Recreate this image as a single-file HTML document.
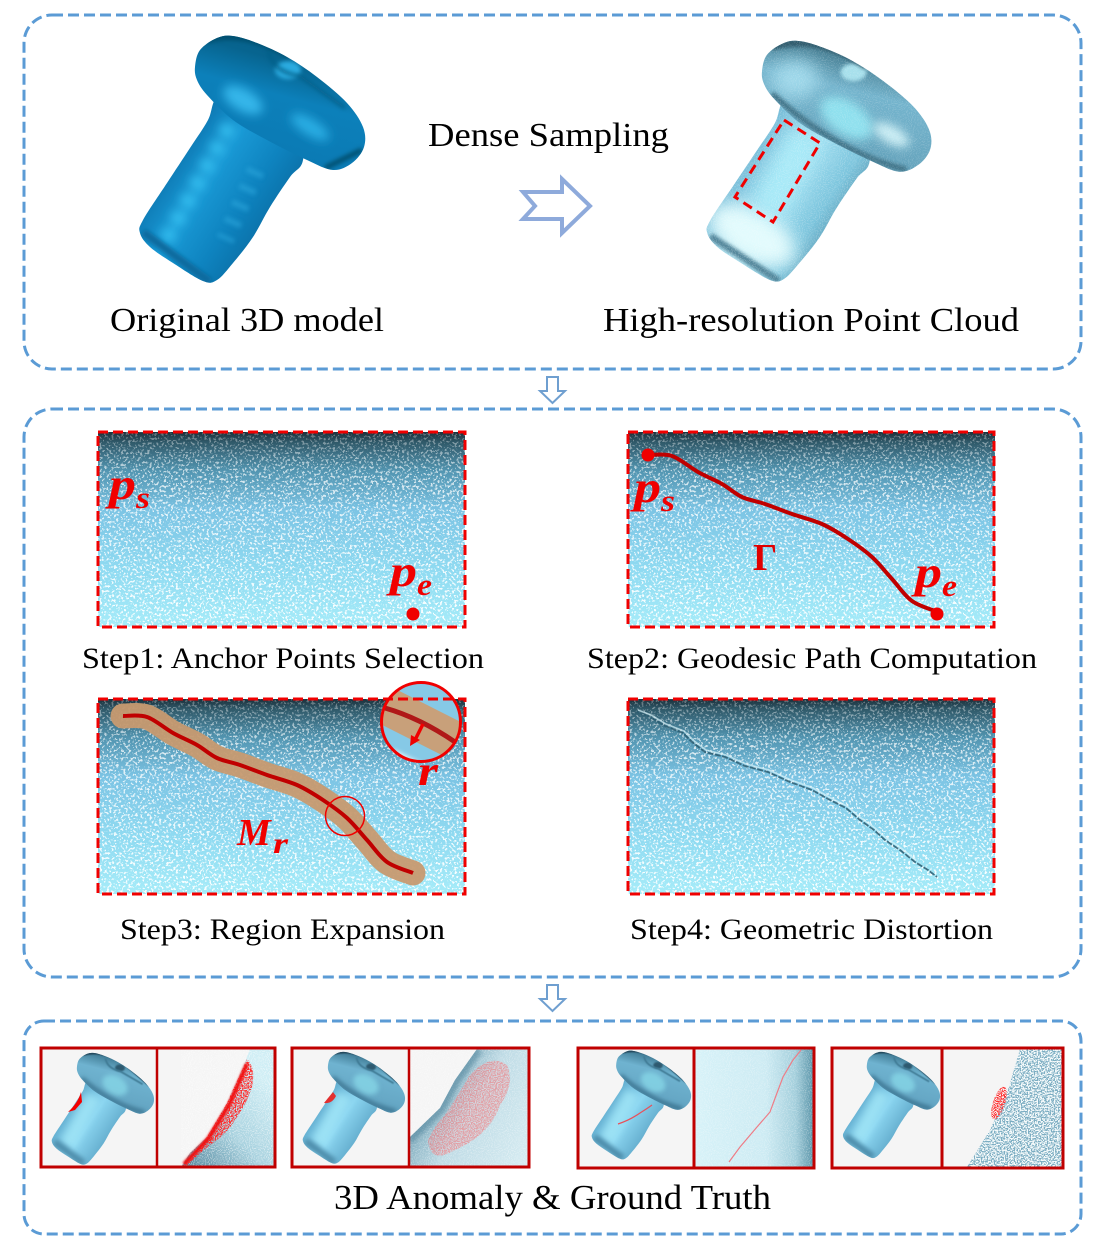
<!DOCTYPE html>
<html lang="en">
<head>
<meta charset="utf-8">
<title>3D anomaly synthesis pipeline</title>
<style>
html,body{margin:0;padding:0;background:#fff;width:1098px;height:1253px;overflow:hidden}
svg{display:block}
text{font-family:"Liberation Serif",serif;fill:#000}
.math{font-weight:bold;font-style:italic;fill:#f00000}
</style>
</head>
<body>
<svg xmlns="http://www.w3.org/2000/svg" width="1098" height="1253" viewBox="0 0 1098 1253">
<defs>
  <filter id="blur1" x="-50%" y="-50%" width="200%" height="200%"><feGaussianBlur stdDeviation="1"/></filter>
  <filter id="blur2" x="-50%" y="-50%" width="200%" height="200%"><feGaussianBlur stdDeviation="2"/></filter>
  <filter id="blur5" x="-50%" y="-50%" width="200%" height="200%"><feGaussianBlur stdDeviation="5"/></filter>
  <filter id="blur9" x="-60%" y="-60%" width="220%" height="220%"><feGaussianBlur stdDeviation="9"/></filter>
  <filter id="speck" x="0" y="0" width="100%" height="100%">
    <feTurbulence type="fractalNoise" baseFrequency="0.42" numOctaves="2" seed="7"/>
    <feColorMatrix type="matrix" values="0 0 0 0 1  0 0 0 0 1  0 0 0 0 1  14 0 0 0 -7.8"/>
  </filter>
  <filter id="speckFine" x="0" y="0" width="100%" height="100%">
    <feTurbulence type="fractalNoise" baseFrequency="0.95" numOctaves="1" seed="3"/>
    <feColorMatrix type="matrix" values="0 0 0 0 1  0 0 0 0 1  0 0 0 0 1  9 0 0 0 -4.6"/>
  </filter>
  <filter id="speckDark" x="0" y="0" width="100%" height="100%">
    <feTurbulence type="fractalNoise" baseFrequency="0.7" numOctaves="1" seed="11"/>
    <feColorMatrix type="matrix" values="0 0 0 0 0.2  0 0 0 0 0.42  0 0 0 0 0.54  12 0 0 0 -5.6"/>
  </filter>
  <filter id="speckRed" x="0" y="0" width="100%" height="100%">
    <feTurbulence type="fractalNoise" baseFrequency="0.85" numOctaves="1" seed="5"/>
    <feColorMatrix type="matrix" values="0 0 0 0 1  0 0 0 0 0.03  0 0 0 0 0.03  12 0 0 0 -5.4"/>
  </filter>

  <linearGradient id="panelGrad" x1="0" y1="0" x2="0" y2="1">
    <stop offset="0" stop-color="#1b2f3a"/>
    <stop offset=".05" stop-color="#2f5868"/>
    <stop offset=".2" stop-color="#5295b1"/>
    <stop offset=".4" stop-color="#7cc4e4"/>
    <stop offset=".7" stop-color="#8fdaf1"/>
    <stop offset="1" stop-color="#a6ecf9"/>
  </linearGradient>
  <linearGradient id="speckMaskGrad" x1="0" y1="0" x2="0" y2="1">
    <stop offset="0" stop-color="#444"/>
    <stop offset=".25" stop-color="#bbb"/>
    <stop offset="1" stop-color="#eee"/>
  </linearGradient>
  <mask id="speckMask" maskUnits="userSpaceOnUse" x="98" y="432" width="368" height="196">
    <rect x="98" y="432" width="368" height="196" fill="url(#speckMaskGrad)"/>
  </mask>
  <g id="panel-texture">
    <rect x="98" y="432" width="367" height="195" fill="url(#panelGrad)"/>
    <g mask="url(#speckMask)"><rect x="98" y="432" width="367" height="195" filter="url(#speck)"/></g>
  </g>

  <linearGradient id="origBody" gradientUnits="userSpaceOnUse" x1="160" y1="170" x2="265" y2="240">
    <stop offset="0" stop-color="#0b73ad"/>
    <stop offset=".35" stop-color="#1a9ad6"/>
    <stop offset=".7" stop-color="#0e83bf"/>
    <stop offset="1" stop-color="#0a6ea5"/>
  </linearGradient>
  <linearGradient id="origHead" gradientUnits="userSpaceOnUse" x1="280" y1="60" x2="250" y2="170">
    <stop offset="0" stop-color="#07648f"/>
    <stop offset=".3" stop-color="#0c80ba"/>
    <stop offset="1" stop-color="#0a78b2"/>
  </linearGradient>
  <linearGradient id="cloudBody" gradientUnits="userSpaceOnUse" x1="160" y1="170" x2="265" y2="240">
    <stop offset="0" stop-color="#6fb6d3"/>
    <stop offset=".45" stop-color="#a2e0f2"/>
    <stop offset=".8" stop-color="#7dc5dd"/>
    <stop offset="1" stop-color="#5f9fb8"/>
  </linearGradient>
  <linearGradient id="cloudHead" gradientUnits="userSpaceOnUse" x1="290" y1="50" x2="260" y2="170">
    <stop offset="0" stop-color="#437a8e"/>
    <stop offset=".3" stop-color="#74b4cd"/>
    <stop offset="1" stop-color="#5f9db6"/>
  </linearGradient>
  <linearGradient id="miniBody" gradientUnits="userSpaceOnUse" x1="160" y1="170" x2="265" y2="240">
    <stop offset="0" stop-color="#5ea9cc"/>
    <stop offset=".5" stop-color="#8bd5f0"/>
    <stop offset="1" stop-color="#5fa8c9"/>
  </linearGradient>
  <linearGradient id="miniHead" gradientUnits="userSpaceOnUse" x1="290" y1="50" x2="260" y2="170">
    <stop offset="0" stop-color="#3f7a94"/>
    <stop offset=".25" stop-color="#6fb3d0"/>
    <stop offset="1" stop-color="#5f9fbd"/>
  </linearGradient>
  <linearGradient id="box1Cloud" gradientUnits="userSpaceOnUse" x1="195" y1="1167" x2="275" y2="1090">
    <stop offset="0" stop-color="#5f91a6"/><stop offset=".45" stop-color="#a9d2df"/><stop offset="1" stop-color="#d0eef5"/>
  </linearGradient>
  <linearGradient id="box2Cloud" gradientUnits="userSpaceOnUse" x1="430" y1="1105" x2="525" y2="1160">
    <stop offset="0" stop-color="#86b0c1"/><stop offset=".35" stop-color="#c0dce6"/><stop offset="1" stop-color="#d5ebf1"/>
  </linearGradient>
  <linearGradient id="box3Cloud" x1="0" y1="0" x2="1" y2="0">
    <stop offset="0" stop-color="#d7f2f8"/><stop offset=".6" stop-color="#cdebf3"/><stop offset=".85" stop-color="#a4cfdc"/><stop offset="1" stop-color="#5e97ab"/>
  </linearGradient>

  <clipPath id="clipHead"><path class="smooth" data-pts="195,67 200,50 217,38 233,36 257,43 287,57 317,77 347,103 363,127 364,147 352,163 333,170 307,160 267,140 233,120 207,95 197,80"/></clipPath>
  <clipPath id="clipBody"><path class="smooth" data-pts="218,96 208,120 190,148 167,183 143,220 140,233 150,247 173,263 203,281 217,280 233,263 253,237 270,207 290,177 303,160 300,120 250,85"/></clipPath>
  <clipPath id="clipMag"><circle cx="421" cy="722" r="39"/></clipPath>
  <clipPath id="clipBox1R"><rect x="158" y="1049" width="116" height="117"/></clipPath>
  <clipPath id="clipBox1Red"><path d="M182 1166 L207 1137 L227 1103 L247 1059 Q256 1068 252 1087 Q246 1105 237 1117 Q228 1132 217 1140 Q200 1152 188 1165 Z"/></clipPath>
  <clipPath id="clipBox2R"><rect x="410" y="1049" width="118" height="117"/></clipPath>
  <clipPath id="clipCloud2"><polygon points="477,1049 528,1049 528,1167 410,1167 410,1137 440,1108 455,1080"/></clipPath>
  <clipPath id="clipBox2Red"><path d="M428 1140 Q435 1125 445 1115 Q455 1100 470 1075 Q490 1053 507 1065 Q515 1085 500 1105 Q490 1135 455 1150 Q430 1165 428 1140 Z"/></clipPath>
  <clipPath id="clipBox3R"><rect x="695" y="1049" width="118" height="118"/></clipPath>
  <clipPath id="clipBox4R"><rect x="943" y="1049" width="119" height="118"/></clipPath>
  <clipPath id="clipCloud4"><polygon points="1020,1049 1062,1049 1062,1167 967,1167 990,1130 1007,1093"/></clipPath>
  <clipPath id="clipRed4"><ellipse cx="999" cy="1103" rx="6" ry="17" transform="rotate(18 999 1103)"/></clipPath>

  <g id="mini-screw">
    <g clip-path="url(#clipBody)">
      <rect x="120" y="80" width="210" height="210" fill="url(#miniBody)"/>
      <path d="M232 130 L172 240" stroke="#a8ecfb" stroke-width="34" filter="url(#blur9)" opacity=".7" fill="none"/>
      <path d="M145 232 L210 280" stroke="#4e8dab" stroke-width="16" filter="url(#blur5)" fill="none"/>
    </g>
    <g clip-path="url(#clipHead)">
      <rect x="185" y="25" width="190" height="155" fill="url(#miniHead)"/>
      <ellipse cx="279" cy="107" rx="30" ry="20" transform="rotate(30 279 107)" fill="#86d6e6" filter="url(#blur5)" opacity=".8"/>
      <ellipse cx="290" cy="69" rx="11" ry="8" fill="#2d5a70" filter="url(#blur2)"/>
      <path d="M258 48 Q262 70 290 76 L340 105" stroke="#3f7a94" stroke-width="4" fill="none" filter="url(#blur1)"/>
      <path d="M208 40 Q250 28 300 60 L355 108" stroke="#24465a" stroke-width="5" fill="none" filter="url(#blur1)"/>
      <path d="M205 92 Q270 150 345 168" stroke="#38708c" stroke-width="9" fill="none" filter="url(#blur5)"/>
    </g>
  </g>
</defs>

<rect width="1098" height="1253" fill="#fff"/>

<!-- container boxes -->
<rect x="24" y="15" width="1057" height="354" rx="28" fill="none" stroke="#5b9bd5" stroke-width="3" stroke-dasharray="11 5"/>
<rect x="24" y="409" width="1057" height="568" rx="28" fill="none" stroke="#5b9bd5" stroke-width="3" stroke-dasharray="11 5"/>
<rect x="24" y="1021" width="1057" height="213" rx="20" fill="none" stroke="#5b9bd5" stroke-width="3" stroke-dasharray="11 5"/>

<!-- original screw -->
<g>
  <g clip-path="url(#clipBody)">
    <rect x="120" y="80" width="210" height="210" fill="url(#origBody)"/>
    <path d="M230 125 L166 240" stroke="#35bff0" stroke-width="14" stroke-dasharray="13 7" filter="url(#blur5)" fill="none"/>
    <path d="M256 170 L225 240" stroke="#2aa4da" stroke-width="18" stroke-dasharray="6 12" filter="url(#blur2)" opacity=".6" fill="none"/>
    <path d="M143 232 L210 282" stroke="#0a6a9e" stroke-width="8" filter="url(#blur2)" fill="none"/>
  </g>
  <g clip-path="url(#clipHead)">
    <rect x="185" y="25" width="190" height="155" fill="url(#origHead)"/>
    <ellipse cx="243" cy="100" rx="22" ry="11" transform="rotate(30 243 100)" fill="#35b6ea" filter="url(#blur5)"/>
    <ellipse cx="310" cy="127" rx="22" ry="8" transform="rotate(32 310 127)" fill="#2aaee4" filter="url(#blur5)"/>
    <ellipse cx="288" cy="70" rx="13" ry="9" fill="#2cabe0" filter="url(#blur2)"/>
    <path d="M268 50 Q272 72 300 76 L345 108" stroke="#075e88" stroke-width="3" fill="none" filter="url(#blur2)"/>
    <path d="M205 40 Q240 28 290 55" stroke="#05506f" stroke-width="8" fill="none" filter="url(#blur2)"/>
    <path d="M325 168 L362 150" stroke="#05506f" stroke-width="5" fill="none" filter="url(#blur2)"/>
  </g>
</g>

<!-- point cloud screw -->
<g transform="translate(568,6) scale(.995,.975)">
  <g clip-path="url(#clipBody)">
    <rect x="120" y="80" width="210" height="210" fill="url(#cloudBody)"/>
    <ellipse cx="185" cy="235" rx="48" ry="26" transform="rotate(30 185 235)" fill="#e2fbfd" filter="url(#blur9)"/>
    <path d="M240 130 L200 210" stroke="#a8eaf8" stroke-width="34" filter="url(#blur9)" fill="none"/>
    <path d="M143 236 L212 282" stroke="#4f8398" stroke-width="7" filter="url(#blur2)" fill="none"/>
    <rect x="120" y="80" width="210" height="210" filter="url(#speckFine)" opacity=".2"/>
  </g>
  <g clip-path="url(#clipHead)">
    <rect x="185" y="25" width="190" height="155" fill="url(#cloudHead)"/>
    <ellipse cx="228" cy="75" rx="24" ry="20" fill="#9fd8ea" filter="url(#blur9)"/>
    <ellipse cx="280" cy="115" rx="30" ry="17" transform="rotate(35 280 115)" fill="#8fe0ee" filter="url(#blur5)"/>
    <ellipse cx="325" cy="132" rx="20" ry="9" transform="rotate(30 325 132)" fill="#c9edf4" filter="url(#blur5)"/>
    <ellipse cx="287" cy="68" rx="13" ry="9" fill="#a7e0ec" filter="url(#blur2)"/>
    <path d="M205 90 Q270 150 340 168" stroke="#3f7388" stroke-width="6" fill="none" filter="url(#blur2)"/>
    <path d="M205 42 Q250 28 300 62" stroke="#2e5a6c" stroke-width="7" fill="none" filter="url(#blur2)"/>
    <rect x="185" y="25" width="190" height="155" filter="url(#speckFine)" opacity=".15"/>
  </g>
</g>
<polygon points="784,120 820,143 773,222 735,197" fill="none" stroke="#f00000" stroke-width="3" stroke-dasharray="10 6"/>

<!-- arrows -->
<polygon points="523,192 562,192 562,179 590,206 562,233 562,219 523,219 535,206" fill="#fff" stroke="#8eaadb" stroke-width="4"/>
<polygon points="547,377 558,377 558,391 565,391 552.5,403 540,391 547,391" fill="#fff" stroke="#6f9fd0" stroke-width="2"/>
<polygon points="547,985 558,985 558,999 565,999 552.5,1011 540,999 547,999" fill="#fff" stroke="#6f9fd0" stroke-width="2"/>

<!-- top labels -->
<text x="428" y="146" font-size="34" textLength="241" lengthAdjust="spacingAndGlyphs">Dense Sampling</text>
<text x="110" y="331" font-size="34" textLength="274" lengthAdjust="spacingAndGlyphs">Original 3D model</text>
<text x="603" y="331" font-size="34" textLength="416" lengthAdjust="spacingAndGlyphs">High-resolution Point Cloud</text>

<!-- step 1 -->
<g>
  <use href="#panel-texture"/>
  <rect x="98" y="432" width="367" height="195" fill="none" stroke="#f00000" stroke-width="3" stroke-dasharray="10 5"/>
  <text class="math" x="109" y="499" font-size="44" textLength="27" lengthAdjust="spacingAndGlyphs">p</text>
  <text class="math" x="136" y="508" font-size="31" textLength="14" lengthAdjust="spacingAndGlyphs">s</text>
  <text class="math" x="390" y="586" font-size="44" textLength="27" lengthAdjust="spacingAndGlyphs">p</text>
  <text class="math" x="417" y="595" font-size="31" textLength="15" lengthAdjust="spacingAndGlyphs">e</text>
  <circle cx="413" cy="614" r="6.5" fill="#f00000"/>
</g>
<text x="82" y="668" font-size="30" textLength="402" lengthAdjust="spacingAndGlyphs">Step1: Anchor Points Selection</text>

<!-- step 2 -->
<g>
  <use href="#panel-texture" transform="translate(530,0)"/>
  <rect x="628" y="432" width="366" height="195" fill="none" stroke="#f00000" stroke-width="3" stroke-dasharray="10 5"/>
  <path class="smooth open" transform="translate(525,-261)" fill="none" stroke="#c00000" stroke-width="4" stroke-linecap="round" data-pts="123,716 147,717 173,733 197,745 217,758 240,765 267,775 297,785 323,800 347,818 367,840 387,862 413,873"/>
  <circle cx="648" cy="455" r="6.5" fill="#f00000"/>
  <circle cx="937" cy="614" r="6.5" fill="#f00000"/>
  <text class="math" x="634" y="502" font-size="44" textLength="27" lengthAdjust="spacingAndGlyphs">p</text>
  <text class="math" x="661" y="511" font-size="31" textLength="14" lengthAdjust="spacingAndGlyphs">s</text>
  <text class="math" x="915" y="587" font-size="44" textLength="27" lengthAdjust="spacingAndGlyphs">p</text>
  <text class="math" x="942" y="596" font-size="31" textLength="15" lengthAdjust="spacingAndGlyphs">e</text>
  <text x="753" y="570" font-size="38" font-weight="bold" style="fill:#e00000">Γ</text>
</g>
<text x="587" y="668" font-size="30" textLength="450" lengthAdjust="spacingAndGlyphs">Step2: Geodesic Path Computation</text>

<!-- step 3 -->
<g>
  <use href="#panel-texture" transform="translate(0,267)"/>
  <path class="smooth open" fill="none" stroke="#c79a70" stroke-width="25" stroke-linecap="round" stroke-opacity=".95" data-pts="123,716 147,717 173,733 197,745 217,758 240,765 267,775 297,785 323,800 347,818 367,840 387,862 413,873"/>
  <path class="smooth open" fill="none" stroke="#c00000" stroke-width="4" data-pts="123,716 147,717 173,733 197,745 217,758 240,765 267,775 297,785 323,800 347,818 367,840 387,862 413,873"/>
  <circle cx="345" cy="816" r="19.5" fill="none" stroke="#f00000" stroke-width="1.5"/>
  <g>
    <circle cx="421" cy="722" r="39" fill="#86c9e6"/>
    <g clip-path="url(#clipMag)">
      <path d="M375 700 L470 748" stroke="#c8a07a" stroke-width="38" fill="none"/>
      <path d="M385 708 Q420 718 455 742" stroke="#b01818" stroke-width="5" fill="none"/>
      <path d="M392 752 L425 768" stroke="#dff4fb" stroke-width="6" filter="url(#blur2)"/>
    </g>
    <circle cx="421" cy="722" r="39.5" fill="none" stroke="#f00000" stroke-width="3"/>
    <path d="M423 724 L414 742" stroke="#f00000" stroke-width="3.5"/>
    <polygon points="410,746 411,735 420,740" fill="#f00000"/>
  </g>
  <rect x="98" y="699" width="367" height="195" fill="none" stroke="#f00000" stroke-width="3" stroke-dasharray="10 5"/>
  <text class="math" x="418" y="785" font-size="42" textLength="20" lengthAdjust="spacingAndGlyphs">r</text>
  <text class="math" x="237" y="845" font-size="38">M</text>
  <text class="math" x="273" y="853" font-size="30" textLength="15" lengthAdjust="spacingAndGlyphs">r</text>
</g>
<text x="120" y="939" font-size="30" textLength="325" lengthAdjust="spacingAndGlyphs">Step3: Region Expansion</text>

<!-- step 4 -->
<g>
  <use href="#panel-texture" transform="translate(530,267)"/>
  <path fill="none" stroke="#d8f3fa" stroke-width="1.6" stroke-opacity=".7" d="M638 710 L651 715 L666 724 L684 731 L693 740 L706 750 L726 755 L746 764 L769 770 L791 780 L813 788 L831 798 L847 806 L861 818 L875 828 L886 838 L901 848 L916 860"/>
  <path fill="none" stroke="#2a5c70" stroke-width="1.8" stroke-opacity=".85" stroke-dasharray="6 1.5" d="M637 712 L650 717 L665 726 L683 733 L692 742 L705 752 L725 757 L745 766 L768 772 L790 782 L812 790 L830 800 L846 808 L860 820 L874 830 L885 840 L900 850 L915 862 L928 870 L937 877"/>
  <rect x="628" y="699" width="366" height="195" fill="none" stroke="#f00000" stroke-width="3" stroke-dasharray="10 5"/>
</g>
<text x="630" y="939" font-size="30" textLength="363" lengthAdjust="spacingAndGlyphs">Step4: Geometric Distortion</text>

<!-- anomaly pair 1 -->
<g>
  <rect x="41" y="1048" width="234" height="119" fill="#f5f5f5"/>
  <use href="#mini-screw" transform="translate(-11.4,1036.7) scale(.453)"/>
  <path d="M81 1092 L82 1102 L75 1110 L68 1112 Q78 1103 81 1092 Z" fill="#f40000"/>
  <g clip-path="url(#clipBox1R)">
    <polygon points="250,1049 275,1049 275,1167 181,1167 190,1153 207,1137 227,1103 243,1067" fill="url(#box1Cloud)"/>
    <polygon points="250,1049 275,1049 275,1167 181,1167 190,1153 207,1137 227,1103 243,1067" filter="url(#speckFine)" opacity=".45"/>
    <g clip-path="url(#clipBox1Red)"><rect x="158" y="1049" width="116" height="117" filter="url(#speckRed)"/></g>
    <path d="M184 1164 L208 1139 L229 1105 L247 1064" stroke="#f20d0d" stroke-width="4" fill="none" filter="url(#blur1)"/>
  </g>
  <rect x="41" y="1048" width="234" height="119" fill="none" stroke="#c00000" stroke-width="3"/>
  <path d="M157 1048 V1167" stroke="#c00000" stroke-width="2.5"/>
</g>

<!-- anomaly pair 2 -->
<g>
  <rect x="292" y="1048" width="237" height="119" fill="#f5f5f5"/>
  <use href="#mini-screw" transform="translate(239.6,1035.7) scale(.453)" style="filter:blur(.7px)"/>
  <path d="M333 1092 Q328 1098 324 1103 Q332 1104 336 1096 Z" fill="#e23030"/>
  <g clip-path="url(#clipBox2R)">
    <polygon points="477,1049 528,1049 528,1167 410,1167 410,1137 440,1108 455,1080" fill="url(#box2Cloud)"/>
    <polygon points="477,1049 528,1049 528,1167 410,1167 410,1137 440,1108 455,1080" filter="url(#speckFine)" opacity=".3"/>
    <g clip-path="url(#clipCloud2)"><path d="M408 1139 L440 1108 L455 1080 L477 1049" stroke="#5b8da3" stroke-width="12" fill="none" opacity=".65" filter="url(#blur2)"/></g>
    <path d="M428 1140 Q435 1125 445 1115 Q455 1100 470 1075 Q490 1053 507 1065 Q515 1085 500 1105 Q490 1135 455 1150 Q430 1165 428 1140 Z" fill="#f0bcc4" opacity=".35"/>
    <g clip-path="url(#clipBox2Red)"><rect x="410" y="1049" width="118" height="117" filter="url(#speckRed)" opacity=".3"/></g>
  </g>
  <rect x="292" y="1048" width="237" height="119" fill="none" stroke="#c00000" stroke-width="3"/>
  <path d="M409 1048 V1167" stroke="#c00000" stroke-width="2.5"/>
</g>

<!-- anomaly pair 3 -->
<g>
  <rect x="578" y="1048" width="236" height="120" fill="#f5f5f5"/>
  <use href="#mini-screw" transform="translate(530.4,1035) scale(.44)"/>
  <path d="M618 1124 Q630 1120 640 1113 Q648 1108 652 1105" stroke="#e8505a" stroke-width="1.2" fill="none"/>
  <g clip-path="url(#clipBox3R)">
    <rect x="695" y="1049" width="118" height="118" fill="url(#box3Cloud)"/>
    <rect x="695" y="1049" width="118" height="118" filter="url(#speckFine)" opacity=".25"/>
    <path d="M801 1050 L793 1060 L783 1077 L777 1093 L770 1112 L757 1127 L740 1147 L729 1162" stroke="#ee7c86" stroke-width="1.2" fill="none"/>
  </g>
  <rect x="578" y="1048" width="236" height="120" fill="none" stroke="#c00000" stroke-width="3"/>
  <path d="M694 1048 V1168" stroke="#c00000" stroke-width="3"/>
</g>

<!-- anomaly pair 4 -->
<g>
  <rect x="832" y="1048" width="231" height="120" fill="#f5f5f5"/>
  <use href="#mini-screw" transform="translate(783,1036.5) scale(.43)"/>
  <g clip-path="url(#clipBox4R)">
    <polygon points="1020,1049 1062,1049 1062,1167 967,1167 990,1130 1007,1093" fill="#f5fafb"/>
    <g clip-path="url(#clipCloud4)"><rect x="943" y="1049" width="119" height="118" filter="url(#speckDark)"/></g>
    <g clip-path="url(#clipRed4)"><rect x="943" y="1049" width="119" height="118" filter="url(#speckRed)"/></g>
  </g>
  <rect x="832" y="1048" width="231" height="120" fill="none" stroke="#c00000" stroke-width="3"/>
  <path d="M942 1048 V1168" stroke="#c00000" stroke-width="3"/>
</g>

<text x="334" y="1209" font-size="35" textLength="437" lengthAdjust="spacingAndGlyphs">3D Anomaly &amp; Ground Truth</text>
</svg>
<script>
// Smooth the hand-traced outlines with Catmull-Rom curves through the points.
document.querySelectorAll('path.smooth').forEach(function(p){
  var pts = p.getAttribute('data-pts').trim().split(/\s+/).map(function(s){return s.split(',').map(Number);});
  var open = p.classList.contains('open');
  var n = pts.length;
  function at(i){ return open ? pts[Math.max(0,Math.min(n-1,i))] : pts[(i+n)%n]; }
  var d = 'M'+pts[0][0]+' '+pts[0][1];
  var last = open ? n-1 : n;
  for(var i=0;i<last;i++){
    var p0=at(i-1), p1=at(i), p2=at(i+1), p3=at(i+2);
    d += ' C'+(p1[0]+(p2[0]-p0[0])/6)+' '+(p1[1]+(p2[1]-p0[1])/6)+' '+(p2[0]-(p3[0]-p1[0])/6)+' '+(p2[1]-(p3[1]-p1[1])/6)+' '+p2[0]+' '+p2[1];
  }
  if(!open){ d += ' Z'; }
  p.setAttribute('d', d);
});
</script>
</body>
</html>
